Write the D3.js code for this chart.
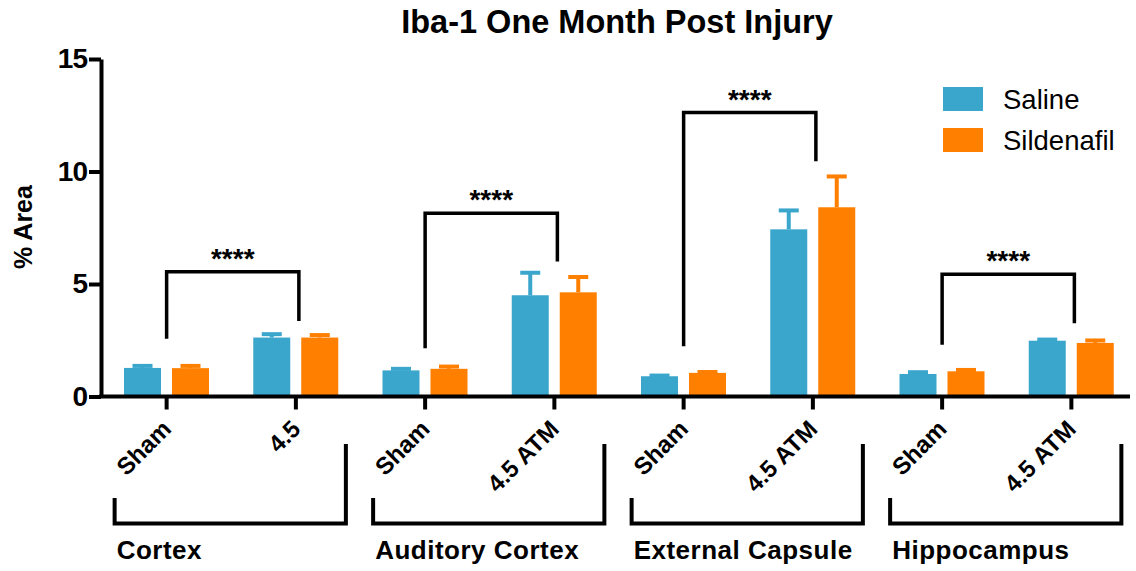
<!DOCTYPE html>
<html><head><meta charset="utf-8">
<script src="https://cdn.jsdelivr.net/npm/d3@7"></script>
<style>body{margin:0;background:#fff}svg{display:block}</style>
</head><body>
<svg id="c" width="1136" height="571"></svg>
<script>
// ---- data ----
const title = "Iba-1 One Month Post Injury";
const yLabel = "% Area";
const regions = ["Cortex", "Auditory Cortex", "External Capsule", "Hippocampus"];
const tickLabels = ["Sham", "4.5", "Sham", "4.5 ATM", "Sham", "4.5 ATM", "Sham", "4.5 ATM"];
const series = ["Saline", "Sildenafil"];
const salineMean = [1.27, 2.62, 1.16, 4.50, 0.90, 7.43, 1.00, 2.48];
const salineErr  = [1.36, 2.77, 1.23, 5.50, 0.93, 8.27, 1.08, 2.53];
const sildMean   = [1.26, 2.62, 1.23, 4.63, 1.05, 8.41, 1.12, 2.38];
const sildErr    = [1.36, 2.73, 1.33, 5.31, 1.09, 9.78, 1.18, 2.49];
const yTicks = [0, 5, 10, 15];
const sigLabels = ["****", "****", "****", "****"];
const sigTop = [5.54, 8.15, 12.62, 5.43];
const sigLeftEnd = [2.57, 2.15, 2.23, 2.30];
const sigRightEnd = [3.36, 6.00, 10.46, 3.26];
const colors = ["#3AA6CC", "#FF7F00"];

// ---- chart ----
const FONT = "'Liberation Sans', Arial, sans-serif";
const svg = d3.select("#c").style("font-family", FONT);
const x = d3.scaleBand().domain(d3.range(tickLabels.length)).range([102, 1136]).padding(0);
const xs = d3.scaleBand().domain(series).range([22, 107]).paddingInner(0.229);
const y = d3.scaleLinear().domain([0, 15]).range([396.5, 59]);
const color = d3.scaleOrdinal().domain(series).range(colors);
const cx = i => x(i) + x.bandwidth() / 2;

const rows = [];
tickLabels.forEach((t, i) => {
  rows.push({i, s: "Saline", m: salineMean[i], e: salineErr[i]});
  rows.push({i, s: "Sildenafil", m: sildMean[i], e: sildErr[i]});
});

// bars
svg.append("g").selectAll("rect").data(rows).join("rect")
  .attr("x", d => x(d.i) + xs(d.s))
  .attr("y", d => y(d.m))
  .attr("width", xs.bandwidth())
  .attr("height", d => y(0) - y(d.m))
  .attr("fill", d => color(d.s));

// error bars
const eg = svg.append("g").selectAll("g").data(rows).join("g")
  .attr("stroke", d => color(d.s)).attr("stroke-width", 4);
eg.append("line")
  .attr("x1", d => x(d.i) + xs(d.s) + xs.bandwidth() / 2)
  .attr("x2", d => x(d.i) + xs(d.s) + xs.bandwidth() / 2)
  .attr("y1", d => y(d.m)).attr("y2", d => y(d.e));
eg.append("line")
  .attr("x1", d => x(d.i) + xs(d.s) + xs.bandwidth() / 2 - 10)
  .attr("x2", d => x(d.i) + xs(d.s) + xs.bandwidth() / 2 + 10)
  .attr("y1", d => y(d.e)).attr("y2", d => y(d.e));

// y axis
const ya = svg.append("g").attr("transform", "translate(101,0)")
  .call(d3.axisLeft(y).tickValues(yTicks).tickSize(12).tickSizeOuter(0).tickPadding(2));
ya.select(".domain").attr("stroke-width", 4).attr("stroke", "#000");
ya.selectAll(".tick line").attr("stroke-width", 4).attr("stroke", "#000");
ya.selectAll(".tick text").attr("font-size", 28).attr("font-weight", "bold")
  .attr("font-family", FONT).attr("fill", "#000").attr("letter-spacing", -1);

// x axis
const xa = svg.append("g").attr("transform", `translate(0,${y(0)})`)
  .call(d3.axisBottom(x).tickFormat(i => tickLabels[i]).tickSize(13).tickSizeOuter(0));
xa.select(".domain").attr("stroke-width", 4).attr("stroke", "#000")
  .attr("d", "M99,0H1130");
xa.selectAll(".tick line").attr("stroke-width", 4).attr("stroke", "#000");
xa.selectAll(".tick text")
  .attr("font-size", 24).attr("font-weight", "bold").attr("font-family", FONT).attr("fill", "#000")
  .attr("text-anchor", "end").attr("y", 0).attr("dy", 0)
  .attr("transform", "translate(6,34) rotate(-45)");

// region brackets + labels
const rg = svg.append("g");
regions.forEach((r, k) => {
  const left = cx(2 * k) - 52, right = cx(2 * k + 1) + 50;
  rg.append("path").attr("d", `M${left},498V523.5H${right}V444`)
    .attr("fill", "none").attr("stroke", "#000").attr("stroke-width", 4);
  rg.append("text").attr("x", left + 2).attr("y", 559).text(r)
    .attr("font-size", 26).attr("font-weight", "bold").attr("letter-spacing", 0.5);
});

// significance brackets
const sg = svg.append("g");
sigLabels.forEach((lab, k) => {
  const l = cx(2 * k), r = cx(2 * k + 1) + 3;
  sg.append("path")
    .attr("d", `M${l},${y(sigLeftEnd[k])}V${y(sigTop[k])}H${r}V${y(sigRightEnd[k])}`)
    .attr("fill", "none").attr("stroke", "#000").attr("stroke-width", 3.5);
  sg.append("text").attr("x", (l + r) / 2).attr("y", y(sigTop[k]) - 4)
    .attr("text-anchor", "middle").attr("font-size", 28).attr("font-weight", "bold").text(lab);
});

// title
svg.append("text").attr("x", 617).attr("y", 33).attr("text-anchor", "middle")
  .attr("font-size", 32.5).attr("font-weight", "bold").text(title);

// y label
svg.append("text").attr("transform", "translate(32,227) rotate(-90)")
  .attr("text-anchor", "middle").attr("font-size", 25).attr("font-weight", "bold").text(yLabel);

// legend
const lg = svg.append("g").selectAll("g").data(series).join("g")
  .attr("transform", (d, i) => `translate(943,${87 + i * 41})`);
lg.append("rect").attr("width", 40).attr("height", 24).attr("fill", d => color(d));
lg.append("text").attr("x", 60).attr("y", 21.5).attr("font-size", 27.5).text(d => d);
</script>
</body></html>
